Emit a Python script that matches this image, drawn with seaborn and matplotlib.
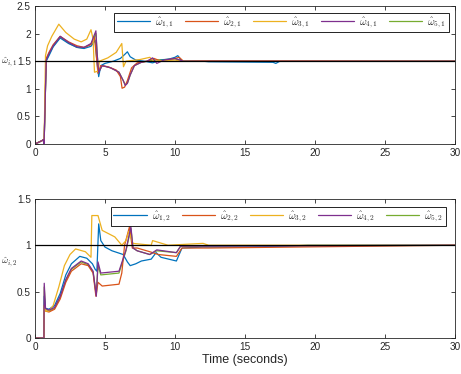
import matplotlib
matplotlib.use("Agg")
import matplotlib.pyplot as plt
import pandas as pd
import seaborn as sns

# MATLAB default line colours
COLORS = ["#0072BD", "#D95319", "#EDB120", "#7E2F8E", "#77AC30"]

X_TICKS = [0, 5, 10, 15, 20, 25, 30]
Y_TICKS_1 = [0, 0.5, 1, 1.5, 2, 2.5]
Y_TICKS_2 = [0, 0.5, 1, 1.5]
REF_1 = 1.5
REF_2 = 1.0

# ---- panel 1: omega_{i,1} ----
t11 = [0, 0.5, 0.6, 0.65, 0.8, 1.0, 1.3, 1.8, 2.4, 3.0, 3.5, 4.0, 4.3, 4.42, 4.55, 4.7, 5.0, 5.6, 6.1, 6.4, 6.6, 6.8, 7.2, 7.8, 8.4, 9.0, 9.6, 10.0, 10.2, 10.5, 12.0, 12.4, 17.0, 17.2, 17.5, 30]
w11 = [0, 0.06, 0.08, 0, 1.5, 1.6, 1.76, 1.92, 1.82, 1.75, 1.73, 1.77, 1.88, 1.5, 1.22, 1.42, 1.46, 1.5, 1.55, 1.62, 1.67, 1.58, 1.52, 1.5, 1.47, 1.52, 1.54, 1.57, 1.6, 1.5, 1.5, 1.49, 1.48, 1.46, 1.5, 1.5]

t21 = [0, 0.5, 0.6, 0.65, 0.8, 1.0, 1.3, 1.8, 2.4, 3.0, 3.5, 4.0, 4.25, 4.38, 4.5, 4.7, 5.2, 5.8, 6.1, 6.22, 6.4, 6.6, 6.9, 7.3, 8.0, 8.5, 9.0, 10.0, 10.3, 10.6, 12.4, 30]
w21 = [0, 0.06, 0.08, 0, 1.55, 1.66, 1.8, 1.95, 1.85, 1.78, 1.75, 1.8, 1.93, 1.6, 1.28, 1.42, 1.4, 1.34, 1.22, 1.01, 1.03, 1.15, 1.38, 1.47, 1.5, 1.55, 1.5, 1.55, 1.57, 1.5, 1.51, 1.5]

t31 = [0, 0.5, 0.6, 0.65, 0.75, 0.9, 1.2, 1.7, 2.2, 2.8, 3.3, 3.7, 4.0, 4.15, 4.25, 4.5, 4.6, 5.2, 5.8, 6.1, 6.2, 6.32, 6.5, 7.5, 8.2, 8.5, 10.0, 10.5, 30]
w31 = [0, 0.06, 0.08, 0, 1.6, 1.78, 1.95, 2.17, 2.02, 1.9, 1.85, 1.9, 2.07, 1.9, 1.3, 1.32, 1.5, 1.56, 1.66, 1.78, 1.82, 1.4, 1.5, 1.53, 1.57, 1.5, 1.52, 1.5, 1.5]

t41 = [0, 0.5, 0.6, 0.65, 0.8, 1.0, 1.3, 1.8, 2.4, 3.0, 3.5, 4.0, 4.35, 4.45, 4.55, 4.8, 5.4, 6.0, 6.3, 6.45, 6.6, 6.8, 7.1, 7.6, 8.0, 8.4, 8.7, 9.2, 10.0, 10.6, 30]
w41 = [0, 0.06, 0.08, 0, 1.52, 1.64, 1.78, 1.95, 1.84, 1.76, 1.75, 1.82, 2.05, 1.6, 1.3, 1.42, 1.38, 1.3, 1.15, 1.06, 1.1, 1.25, 1.42, 1.48, 1.5, 1.56, 1.46, 1.52, 1.55, 1.5, 1.5]

t51 = [0, 0.5, 0.6, 0.65, 0.8, 1.0, 1.3, 1.8, 2.4, 3.0, 3.5, 4.0, 4.35, 4.45, 4.55, 4.8, 5.4, 6.0, 6.3, 6.45, 6.6, 6.8, 7.1, 7.6, 8.5, 10.0, 10.6, 30]
w51 = [0, 0.06, 0.08, 0, 1.52, 1.63, 1.77, 1.94, 1.83, 1.75, 1.74, 1.81, 2.0, 1.6, 1.3, 1.42, 1.38, 1.3, 1.15, 1.07, 1.1, 1.25, 1.42, 1.48, 1.52, 1.54, 1.5, 1.5]

# ---- panel 2: omega_{i,2} ----
t12 = [0, 0.64, 0.66, 0.75, 1.0, 1.4, 1.8, 2.2, 2.6, 3.2, 3.7, 4.1, 4.3, 4.42, 4.55, 4.7, 5.0, 5.5, 6.3, 6.6, 6.8, 7.2, 7.6, 8.3, 8.65, 9.0, 10.1, 10.5, 12.0, 15.0, 18.0, 19.5, 30]
w12 = [0, 0, 0.45, 0.32, 0.31, 0.35, 0.48, 0.68, 0.8, 0.88, 0.86, 0.8, 0.74, 0.72, 1.23, 1.05, 0.98, 0.94, 0.9, 0.82, 0.78, 0.8, 0.83, 0.85, 0.92, 0.87, 0.83, 0.97, 0.98, 0.98, 0.99, 1.0, 1.0]

t22 = [0, 0.64, 0.66, 0.75, 1.0, 1.4, 1.8, 2.2, 2.6, 3.3, 3.8, 4.15, 4.35, 4.5, 4.8, 6.0, 6.2, 6.4, 6.75, 6.95, 7.3, 8.2, 8.8, 10.1, 10.5, 12.4, 30]
w22 = [0, 0, 0.35, 0.29, 0.28, 0.31, 0.42, 0.6, 0.72, 0.8, 0.78, 0.7, 0.45, 0.6, 0.56, 0.58, 0.7, 1.0, 1.2, 0.97, 0.97, 0.93, 0.9, 0.88, 0.97, 0.97, 1.0]

t32 = [0, 0.64, 0.66, 0.75, 1.0, 1.3, 1.7, 2.1, 2.5, 2.9, 3.6, 4.0, 4.06, 4.5, 4.8, 5.7, 6.2, 6.5, 6.7, 7.0, 8.3, 8.4, 9.5, 12.0, 12.4, 30]
w32 = [0, 0, 0.35, 0.29, 0.29, 0.35, 0.55, 0.78, 0.9, 0.96, 0.93, 0.87, 1.32, 1.32, 1.16, 1.09, 1.0, 1.05, 1.15, 1.02, 1.0, 1.05, 1.0, 1.02, 1.0, 1.0]

t42 = [0, 0.64, 0.66, 0.75, 1.0, 1.4, 1.8, 2.2, 2.6, 3.3, 3.8, 4.15, 4.38, 4.5, 4.7, 6.0, 6.5, 6.85, 7.0, 7.3, 8.2, 8.7, 10.1, 10.4, 30]
w42 = [0, 0, 0.59, 0.32, 0.3, 0.33, 0.45, 0.63, 0.75, 0.83, 0.8, 0.72, 0.45, 0.82, 0.7, 0.72, 0.95, 1.2, 0.97, 0.94, 0.9, 0.95, 0.92, 0.99, 1.0]

t52 = [0, 0.64, 0.66, 0.75, 1.0, 1.4, 1.8, 2.2, 2.6, 3.3, 3.8, 4.15, 4.38, 4.5, 4.7, 6.0, 6.5, 6.85, 7.0, 7.3, 8.2, 8.7, 10.1, 10.4, 30]
w52 = [0, 0, 0.55, 0.31, 0.29, 0.32, 0.44, 0.62, 0.74, 0.82, 0.79, 0.71, 0.46, 0.78, 0.68, 0.7, 0.94, 1.18, 0.97, 0.94, 0.9, 0.94, 0.92, 0.99, 1.0]

PANEL_1 = [(t11, w11), (t21, w21), (t31, w31), (t41, w41), (t51, w51)]
PANEL_2 = [(t12, w12), (t22, w22), (t32, w32), (t42, w42), (t52, w52)]
LABELS_1 = [r"$\hat{\omega}_{%d,1}$" % i for i in range(1, 6)]
LABELS_2 = [r"$\hat{\omega}_{%d,2}$" % i for i in range(1, 6)]

sns.set_theme(style="ticks")
plt.rcParams["font.family"] = ["Liberation Sans", "DejaVu Sans"]
plt.rcParams["mathtext.fontset"] = "cm"
plt.rcParams["xtick.direction"] = "in"
plt.rcParams["ytick.direction"] = "in"

fig = plt.figure(figsize=(4.61, 3.74), dpi=100)
ax1 = fig.add_axes([0.0759, 0.615, 0.9111, 0.369])
ax2 = fig.add_axes([0.0759, 0.0963, 0.9111, 0.372])


def draw_panel(ax, series, labels, ref, yticks, ylabel, label_y, leg_anchor):
    # green drawn first so it sits under the others, like in the original
    order = [4, 0, 1, 2, 3]
    handles = {}
    for i in order:
        t, w = series[i]
        df = pd.DataFrame({"t": t, "w": w})
        sns.lineplot(data=df, x="t", y="w", ax=ax, color=COLORS[i], lw=0.9,
                     sort=False, estimator=None, label=labels[i])
        handles[i] = ax.lines[-1]
    ax.axhline(ref, color="black", lw=0.9, zorder=5)
    ax.set_xlim(0, 30)
    ax.set_ylim(yticks[0], yticks[-1])
    ax.set_xticks(X_TICKS)
    ax.set_yticks(yticks)
    ax.set_yticklabels([f"{v:g}" for v in yticks])
    ax.tick_params(labelsize=7.2, length=3, width=0.6, top=True, right=True, pad=3, colors="#262626")
    for s in ax.spines.values():
        s.set_linewidth(0.6)
        s.set_color("#262626")
    # horizontal label hugging the left edge of the figure
    ax.set_ylabel(ylabel, rotation=0, fontsize=7, ha="left", va="center")
    ax.yaxis.set_label_coords(-0.081, label_y)
    ax.set_xlabel("")
    leg = ax.legend([handles[i] for i in range(5)], labels, loc="upper right",
                    bbox_to_anchor=leg_anchor, borderaxespad=0, ncol=5, fontsize=7.5,
                    handlelength=3.2, handletextpad=0.5, columnspacing=1.0,
                    borderpad=0.25, fancybox=False, framealpha=1, edgecolor="black")
    leg.get_frame().set_linewidth(0.6)


draw_panel(ax1, PANEL_1, LABELS_1, REF_1, Y_TICKS_1, r"$\hat{\omega}_{i,1}$", 0.59, (0.986, 0.95))
draw_panel(ax2, PANEL_2, LABELS_2, REF_2, Y_TICKS_2, r"$\hat{\omega}_{i,2}$", 0.547, (0.979, 0.942))
ax2.set_xlabel("Time (seconds)", fontsize=9, labelpad=1)

fig.savefig("out.png", dpi=100)
